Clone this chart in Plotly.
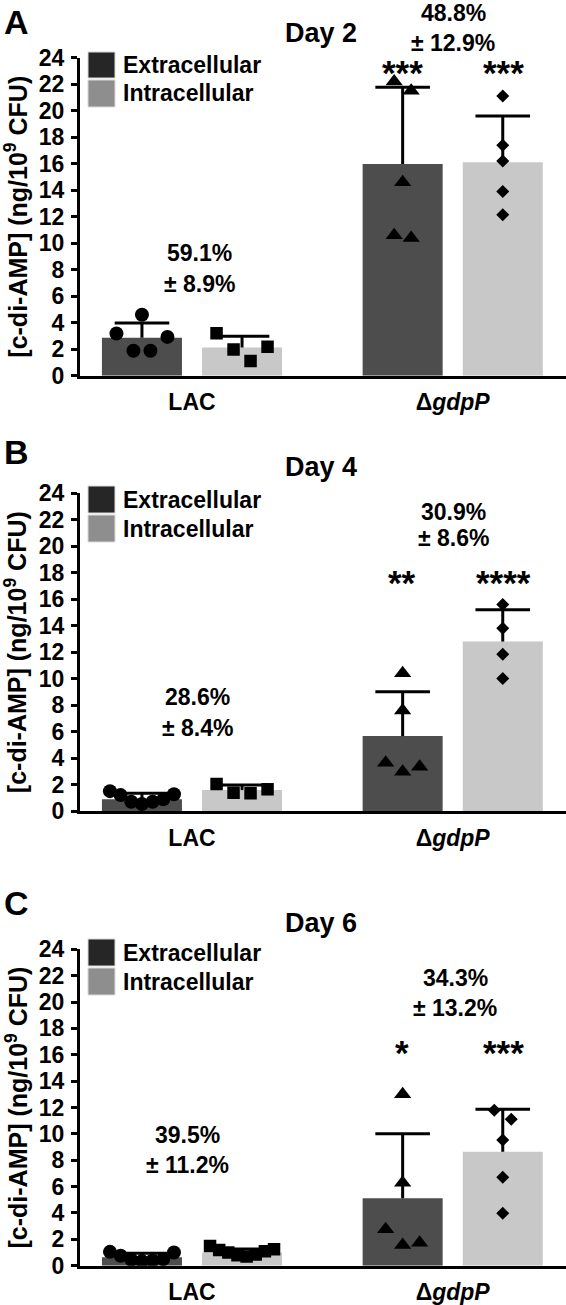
import numpy as np
import plotly.graph_objects as go

# ---------------- data ----------------
groups = ["LAC", "Δ<i>gdpP</i>"]
series = ["Extracellular", "Intracellular"]
days = ["Day 2", "Day 4", "Day 6"]
panel_letters = ["A", "B", "C"]

# bar heights (mean) and SD, order [LAC, dgdpP]
d2_ext_mean = [2.86, 15.97]
d2_ext_sd = [1.12, 5.8]
d2_int_mean = [2.13, 16.1]
d2_int_sd = [0.85, 3.5]
d4_ext_mean = [0.88, 5.66]
d4_ext_sd = [0.46, 3.34]
d4_int_mean = [1.58, 12.8]
d4_int_sd = [0.38, 2.4]
d6_ext_mean = [0.64, 5.11]
d6_ext_sd = [0.3, 4.9]
d6_int_mean = [1.0, 8.65]
d6_int_sd = [0.27, 3.22]

# individual replicates
d2_lac_ext = [4.6, 3.19, 2.93, 1.88, 1.88]
d2_lac_int = [3.2, 2.18, 1.98, 1.1]
d2_gdp_ext = [22.2, 21.5, 14.6, 10.6, 10.4]
d2_gdp_int = [21.1, 17.4, 16.2, 13.9, 12.15]
d4_lac_ext = [1.5, 1.26, 1.2, 0.88, 0.7, 0.7, 0.53]
d4_lac_int = [2.04, 1.64, 1.38, 1.34]
d4_gdp_ext = [10.4, 7.6, 3.65, 3.35, 2.97]
d4_gdp_int = [15.6, 13.8, 11.85, 10.0]
d6_lac_ext = [1.05, 1.0, 0.75, 0.5, 0.45, 0.4, 0.35]
d6_lac_int = [1.5, 1.25, 1.2, 1.1, 1.0, 0.85, 0.8, 0.7]
d6_gdp_ext = [13.0, 6.3, 2.76, 1.75, 1.57]
d6_gdp_int = [11.8, 11.1, 9.54, 6.7, 3.97]

pct_lac = ["59.1%", "28.6%", "39.5%"]
pct_lac_sd = ["± 8.9%", "± 8.4%", "± 11.2%"]
pct_gdp = ["48.8%", "30.9%", "34.3%"]
pct_gdp_sd = ["± 12.9%", "± 8.6%", "± 13.2%"]
stars_ext = ["***", "**", "*"]
stars_int = ["***", "****", "***"]

y_ticks = list(range(0, 25, 2))

# ---------------- layout geometry ----------------
W, H = 566, 1305
FONT = "Liberation Sans, Arial, sans-serif"
EXT_COL = "#4d4d4d"
INT_COL = "#c8c8c8"
LEG_EXT = "#262626"
LEG_INT = "#8e8e8e"

panels_px = [(57.7, 375.7), (493.3, 811.0), (949.3, 1265.7)]  # (y of 24, y of 0)
x_left_px = 80.0
grp_px = 260.7            # px between group centres
x_range = [-112.0 / grp_px, (W - x_left_px - 112.0) / grp_px]
off = 0.192
bw = 0.307


def px(x, y):
    return x / W, 1 - y / H


def note(x, y, text, size, bold=True, **kw):
    a, b = px(x, y)
    d = dict(x=a, y=b, xref="paper", yref="paper", text=text, showarrow=False,
             xanchor="center", yanchor="middle",
             font=dict(family=FONT, size=size, color="black", weight="bold" if bold else "normal"))
    d.update(kw)
    return d


def swarm(vals, ppu, thr=14.0, gap=17.0, maxw=64.0):
    n = len(vals)
    order = sorted(range(n), key=lambda i: -vals[i])
    rows = []
    for i in order:
        if rows and (vals[rows[-1][-1]] - vals[i]) * ppu < thr:
            rows[-1].append(i)
        else:
            rows.append([i])
    offs = [0.0] * n
    for row in rows:
        m = len(row)
        g = gap if m < 2 else min(gap, maxw / (m - 1))
        slots = [(k - (m - 1) / 2) * g for k in range(m)]
        slots = sorted(slots, key=lambda s: (-abs(s), s))
        for idx, s in zip(row, slots):
            offs[idx] = s
    return offs


fig = go.Figure()

ext_means = [d2_ext_mean, d4_ext_mean, d6_ext_mean]
ext_sds = [d2_ext_sd, d4_ext_sd, d6_ext_sd]
int_means = [d2_int_mean, d4_int_mean, d6_int_mean]
int_sds = [d2_int_sd, d4_int_sd, d6_int_sd]
points = [
    [d2_lac_ext, d2_lac_int, d2_gdp_ext, d2_gdp_int],
    [d4_lac_ext, d4_lac_int, d4_gdp_ext, d4_gdp_int],
    [d6_lac_ext, d6_lac_int, d6_gdp_ext, d6_gdp_int],
]
symbols = [("circle", 14), ("square", 12.5), ("triangle-up", 15), ("diamond", 10)]

annotations = []
shapes = []

for p in range(3):
    xa = "x" if p == 0 else f"x{p+1}"
    ya = "y" if p == 0 else f"y{p+1}"
    top, bot = panels_px[p]
    ppu = (bot - top) / 24.0
    xs_ext = [g - off for g in range(2)]
    xs_int = [g + off for g in range(2)]

    fig.add_trace(go.Bar(x=xs_ext, y=ext_means[p], width=bw, marker=dict(color=EXT_COL, line=dict(width=0)),
                         xaxis=xa, yaxis=ya, showlegend=False, name=series[0]))
    fig.add_trace(go.Bar(x=xs_int, y=int_means[p], width=bw, marker=dict(color=INT_COL, line=dict(width=0)),
                         xaxis=xa, yaxis=ya, showlegend=False, name=series[1]))

    # error bars (upper only)
    ex, ey, cx, cy = [], [], [], []
    for xs, ms, sds in ((xs_ext, ext_means[p], ext_sds[p]), (xs_int, int_means[p], int_sds[p])):
        for x0, m, s in zip(xs, ms, sds):
            ex += [x0, x0, None]
            ey += [m, m + s, None]
            cx.append(x0)
            cy.append(m + s)
    fig.add_trace(go.Scatter(x=ex, y=ey, mode="lines", line=dict(color="black", width=3),
                             xaxis=xa, yaxis=ya, showlegend=False, hoverinfo="skip"))
    fig.add_trace(go.Scatter(x=cx, y=cy, mode="markers",
                             marker=dict(symbol="line-ew", size=39, line=dict(color="black", width=3)),
                             xaxis=xa, yaxis=ya, showlegend=False, hoverinfo="skip"))

    # points
    centres = [xs_ext[0], xs_int[0], xs_ext[1], xs_int[1]]
    for k, vals in enumerate(points[p]):
        offs = swarm(vals, ppu)
        sym, sz = symbols[k]
        fig.add_trace(go.Scatter(x=[centres[k] + o / grp_px for o in offs], y=vals, mode="markers",
                                 marker=dict(symbol=sym, size=sz, color="black", line=dict(width=0)),
                                 xaxis=xa, yaxis=ya, showlegend=False))

    dom_y = [1 - bot / H, 1 - top / H]
    ax_common = dict(showgrid=False, zeroline=False, showline=True, linecolor="black", linewidth=3)
    fig.update_layout({
        ("xaxis" if p == 0 else f"xaxis{p+1}"): dict(
            domain=[x_left_px / W, 1.0], range=x_range, anchor=ya, tickvals=[0, 1], ticktext=groups,
            ticks="", ticklabelstandoff=4, tickfont=dict(family=FONT, size=23, color="black", weight="bold"),
            fixedrange=True, **ax_common),
        ("yaxis" if p == 0 else f"yaxis{p+1}"): dict(
            domain=dom_y, range=[0, 24], anchor=xa, tickvals=y_ticks, ticks="outside", ticklen=6,
            tickwidth=3, tickcolor="black", ticklabelstandoff=2,
            tickfont=dict(family=FONT, size=23, color="black", weight="bold"), fixedrange=True, **ax_common),
    })

    # y title
    annotations.append(note(16, (top + bot) / 2, "[c-di-AMP] (ng/10<sup>9</sup> CFU)", 25, textangle=-90))
    # panel letter and title
    annotations.append(note(16, [22, 452, 903][p], panel_letters[p], 34))
    annotations.append(note(321, [33, 467, 923][p], days[p], 27))

    # legend
    sq = [(52, 78, 80, 107), (486, 513, 515, 542), (939, 966, 968, 995)][p]
    for (ya0, ya1, col, lab) in ((sq[0], sq[1], LEG_EXT, series[0]), (sq[2], sq[3], LEG_INT, series[1])):
        x_a, y_a = px(88, ya1)
        x_b, y_b = px(115, ya0)
        shapes.append(dict(type="rect", xref="paper", yref="paper", x0=x_a, x1=x_b, y0=y_a, y1=y_b,
                           fillcolor=col, line=dict(color="#d9d9d9", width=1)))
        annotations.append(note(121, (ya0 + ya1) / 2, lab, 23, xanchor="left"))

    # percent annotations
    lac_xy = [(199, 253, 284), (197, 697, 728), (188, 1135, 1165)][p]
    gdp_xy = [(453, 13, 43), (453, 512, 538), (455, 978, 1008)][p]
    for (xx, y1, y2), t1, t2 in ((lac_xy, pct_lac[p], pct_lac_sd[p]), (gdp_xy, pct_gdp[p], pct_gdp_sd[p])):
        annotations.append(note(xx, y1, t1, 23))
        annotations.append(note(xx, y2, t2, 23))
    # significance stars
    star_y = [72, 582, 1052][p]
    annotations.append(note(402.5, star_y, stars_ext[p], 35))
    annotations.append(note(503, star_y, stars_int[p], 35))

fig.update_layout(
    width=W, height=H, autosize=False,
    margin=dict(l=0, r=0, t=0, b=0, autoexpand=False),
    paper_bgcolor="white", plot_bgcolor="white",
    barmode="overlay", showlegend=False,
    annotations=annotations, shapes=shapes,
    font=dict(family=FONT, color="black"),
)

fig.write_html("out.html", config={"displayModeBar": False},
               post_script="document.body.style.margin='0';document.body.style.overflow='hidden';")
